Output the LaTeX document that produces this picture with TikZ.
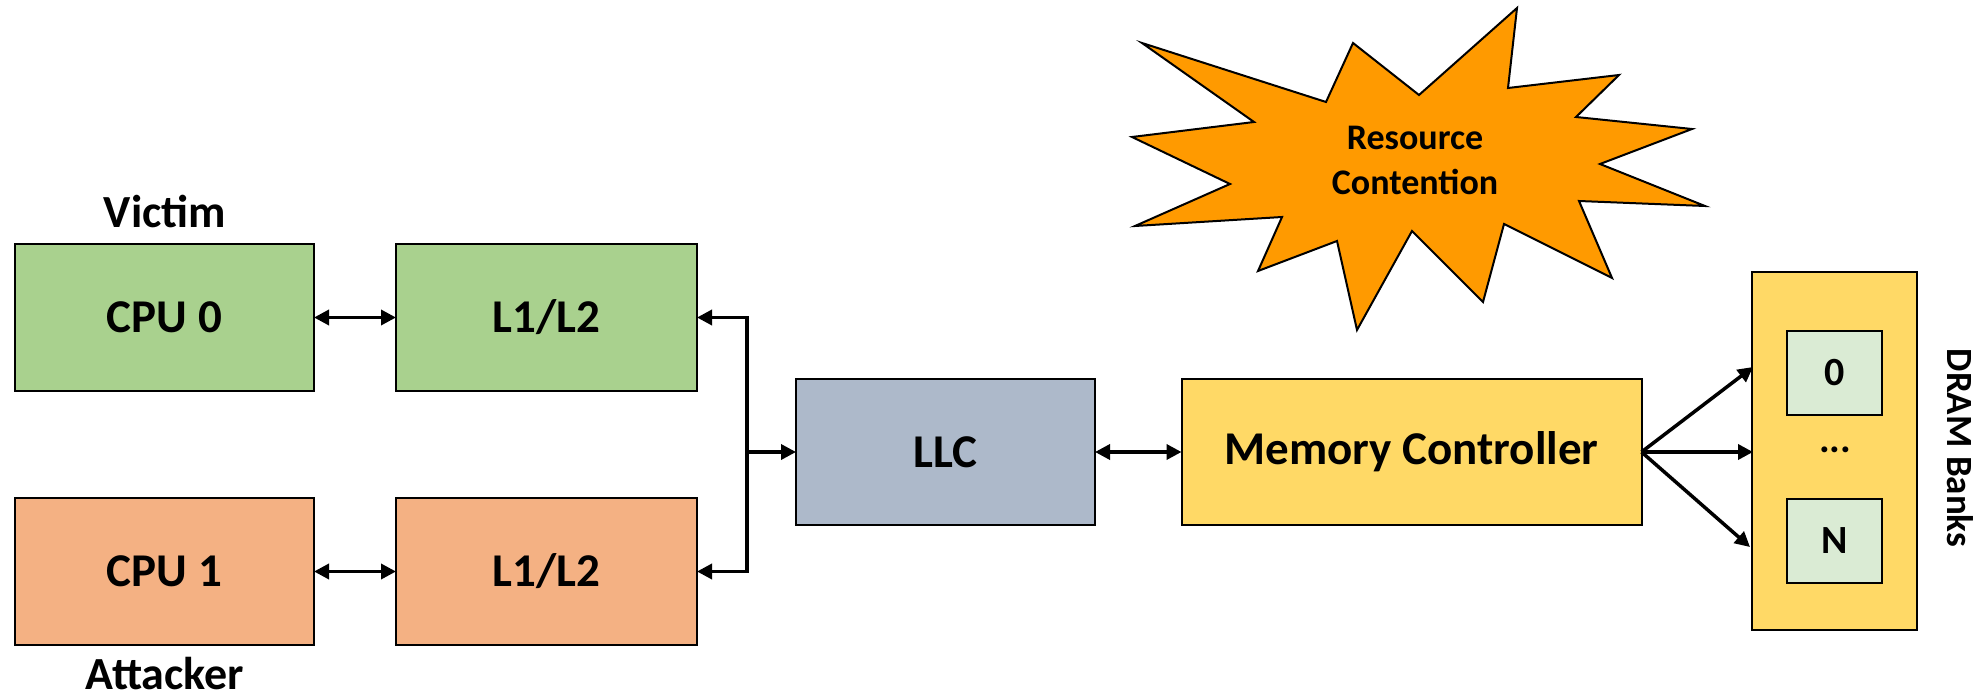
\documentclass[tikz,border=0pt]{standalone}
\usepackage{fontspec}
\setmainfont{Carlito}
\usetikzlibrary{arrows.meta}

\definecolor{vgreen}{HTML}{A9D18E}
\definecolor{aorange}{HTML}{F4B183}
\definecolor{llcgray}{HTML}{ADB9CA}
\definecolor{mcyellow}{HTML}{FFD966}
\definecolor{bankgreen}{HTML}{DAEBD4}
\definecolor{burstorange}{HTML}{FF9A00}

\tikzset{
  blk/.style={draw=black, line width=2pt, inner sep=0pt, outer sep=0pt,
    font=\fontsize{47}{56}\selectfont\bfseries},
  cpubox/.style={blk, minimum width=299pt, minimum height=147pt},
  llcbox/.style={blk, minimum width=299pt, minimum height=146pt, fill=llcgray},
  bankbox/.style={blk, minimum width=95pt, minimum height=84pt, fill=bankgreen,
    font=\fontsize{40}{46}\selectfont\bfseries},
  lbl/.style={font=\fontsize{46}{56}\selectfont\bfseries, inner sep=0pt},
  arr/.style={line width=3.5pt, -{Triangle[length=15pt,width=15pt]}},
  dbl/.style={line width=3.5pt, {Triangle[length=15pt,width=15pt]}-{Triangle[length=15pt,width=15pt]}},
}

\begin{document}
\begin{tikzpicture}[x=1pt,y=-1pt]
  \useasboundingbox (0,0) rectangle (1985,700);

  % contention burst
  \draw[line width=2pt, fill=burstorange, line join=miter]
    (1142,43) -- (1326,102) -- (1353,43) -- (1419,95) -- (1517,8) -- (1508,88)
    -- (1619,75) -- (1576,117) -- (1692,129) -- (1600,164) -- (1705,206)
    -- (1579,201) -- (1612,278) -- (1504,224) -- (1483,302) -- (1412,231)
    -- (1357,330) -- (1337,241) -- (1258,271) -- (1282,217) -- (1135,226)
    -- (1230,184) -- (1132,137) -- (1254,122) -- cycle;
  \node[align=center, font=\fontsize{36}{45}\selectfont\bfseries] (burst) at (1415,160)
    {Resource\\Contention};

  % cores and private caches
  \node[lbl] (victim) at (165,211) {Victim};
  \node[cpubox, fill=vgreen] (cpu0) at (164.5,317.5) {CPU 0};
  \node[cpubox, fill=vgreen, minimum width=301pt] (l1a) at (546.5,317.5) {L1/L2};
  \node[cpubox, fill=aorange] (cpu1) at (164.5,571.5) {CPU 1};
  \node[cpubox, fill=aorange, minimum width=301pt] (l1b) at (546.5,571.5) {L1/L2};
  \node[lbl, anchor=base] (attacker) at (165,689) {Attacker};

  % shared cache and memory controller
  \node[llcbox] (llc) at (945.5,452) {LLC};
  \node[blk, fill=mcyellow, minimum width=460pt, minimum height=146pt] (mc) at (1411.5,452)
    {Memory Controller};

  % DRAM banks
  \node[blk, fill=mcyellow, minimum width=165pt, minimum height=358pt] (dram) at (1834.5,451) {};
  \node[bankbox] (bank0) at (1834.5,373) {0};
  \node[bankbox] (bankn) at (1834.5,541) {N};
  \node[font=\fontsize{40}{46}\selectfont\bfseries] (dots) at (1835,450) {...};
  \node[rotate=-90, font=\fontsize{37}{44}\selectfont\bfseries] (dramlbl) at (1960,448) {DRAM Banks};

  % connections
  \draw[dbl] (cpu0) -- (l1a);
  \draw[dbl] (cpu1) -- (l1b);
  \coordinate (bus) at (747,452);
  \draw[arr] (bus) |- (l1a);
  \draw[arr] (bus) |- (l1b);
  \draw[arr] (bus) -- (llc);
  \draw[dbl] (llc) -- (mc);

  \coordinate (d0) at (1753,367);
  \coordinate (d1) at (1753,452);
  \coordinate (d2) at (1750,547);
  \draw[arr] (mc.east) -- (d0);
  \draw[arr] (mc.east) -- (d1);
  \draw[arr] (mc.east) -- (d2);
\end{tikzpicture}
\end{document}
